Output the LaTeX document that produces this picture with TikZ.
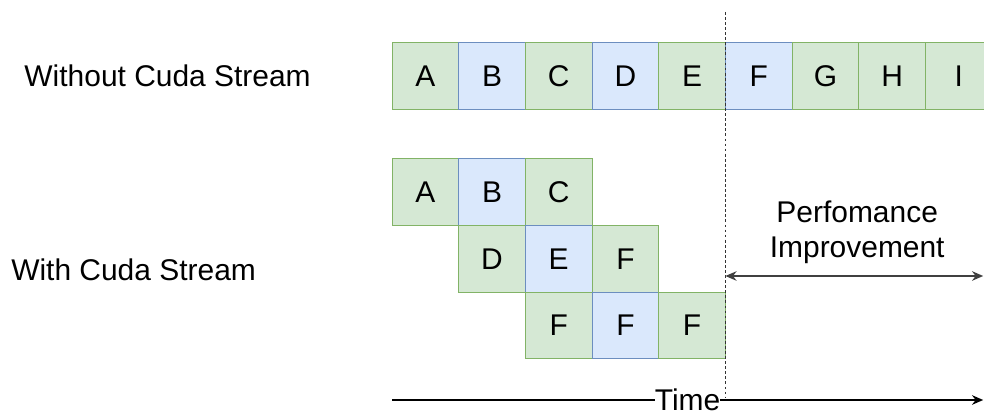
\documentclass[tikz,border=0pt]{standalone}
\usepackage{fontspec}
\setmainfont{Liberation Sans}
\usetikzlibrary{arrows.meta, positioning}
\definecolor{dioGreenF}{HTML}{D5E8D4}
\definecolor{dioGreenS}{HTML}{82B366}
\definecolor{dioBlueF}{HTML}{DAE8FC}
\definecolor{dioBlueS}{HTML}{6C8EBF}
\tikzset{
  >={Stealth[length=2.8mm, width=2.4mm]},
  slot/.style={draw, line width=0.7pt, minimum size=1.667cm, inner sep=0pt,
    outer sep=0pt, font=\fontsize{21.3}{25.5}\selectfont},
  green/.style={slot, fill=dioGreenF, draw=dioGreenS},
  blue/.style ={slot, fill=dioBlueF,  draw=dioBlueS},
  lbl/.style={font=\fontsize{21.3}{25}\selectfont, inner sep=1pt, align=center},
  axislbl/.style={font=\fontsize{21.3}{25}\selectfont, inner sep=0pt, fill=white},
  flow/.style={->, line width=1pt, draw=black},
  gap/.style={<->, line width=1pt, draw=black!75},
  mark line/.style={draw=black!80, line width=0.6pt, dash pattern=on 2pt off 1.6pt},
}

\begin{document}
\begin{tikzpicture}[node distance=0pt]
  \useasboundingbox (0,0) rectangle (24.6,10.45);

  % ---- Row labels --------------------------------------------------------
  \node[lbl] (without) at (4.19,8.557) {Without Cuda Stream};
  \node[lbl] (with)    at (3.34,3.7)   {With Cuda Stream};

  % ---- Serial execution --------------------------------------------------
  \node[green] (ta) at (10.634,8.557) {A};
  \node[blue]  (tb) [right=of ta] {B};
  \node[green] (tc) [right=of tb] {C};
  \node[blue]  (td) [right=of tc] {D};
  \node[green] (te) [right=of td] {E};
  \node[blue]  (tf) [right=of te] {F};
  \node[green] (tg) [right=of tf] {G};
  \node[green] (th) [right=of tg] {H};
  \node[green] (ti) [right=of th] {I};

  % ---- Overlapped execution (three streams) ------------------------------
  \node[green] (sa) at (10.634,5.643) {A};
  \node[blue]  (sb) [right=of sa] {B};
  \node[green] (sc) [right=of sb] {C};

  \node[green] (sd) [below=of sb] {D};
  \node[blue]  (se) [right=of sd] {E};
  \node[green] (sf) [right=of se] {F};

  \node[green] (sg) [below=of se] {F};
  \node[blue]  (sh) [right=of sg] {F};
  \node[green] (si) [right=of sh] {F};

  % ---- Finish marker and gain --------------------------------------------
  \coordinate (mtop) at (te.east |- 0,10.15);
  \coordinate (mbot) at (te.east |- 0,0.5);
  \draw[mark line] (mtop) -- (mbot);

  \coordinate (gapL) at (te.east |- 0,3.55);
  \coordinate (gapR) at (24.58,3.55);
  \draw[gap] (gapL) -- (gapR);
  \node[lbl] (gain) at (21.43,4.64) {Perfomance\\Improvement};

  % ---- Time axis ---------------------------------------------------------
  \coordinate (t0) at (sa.west |- 0,0.45);
  \coordinate (t1) at (24.58,0.45);
  \draw[flow] (t0) -- (t1) node[axislbl, midway] (time) {Time};

\end{tikzpicture}
\end{document}
